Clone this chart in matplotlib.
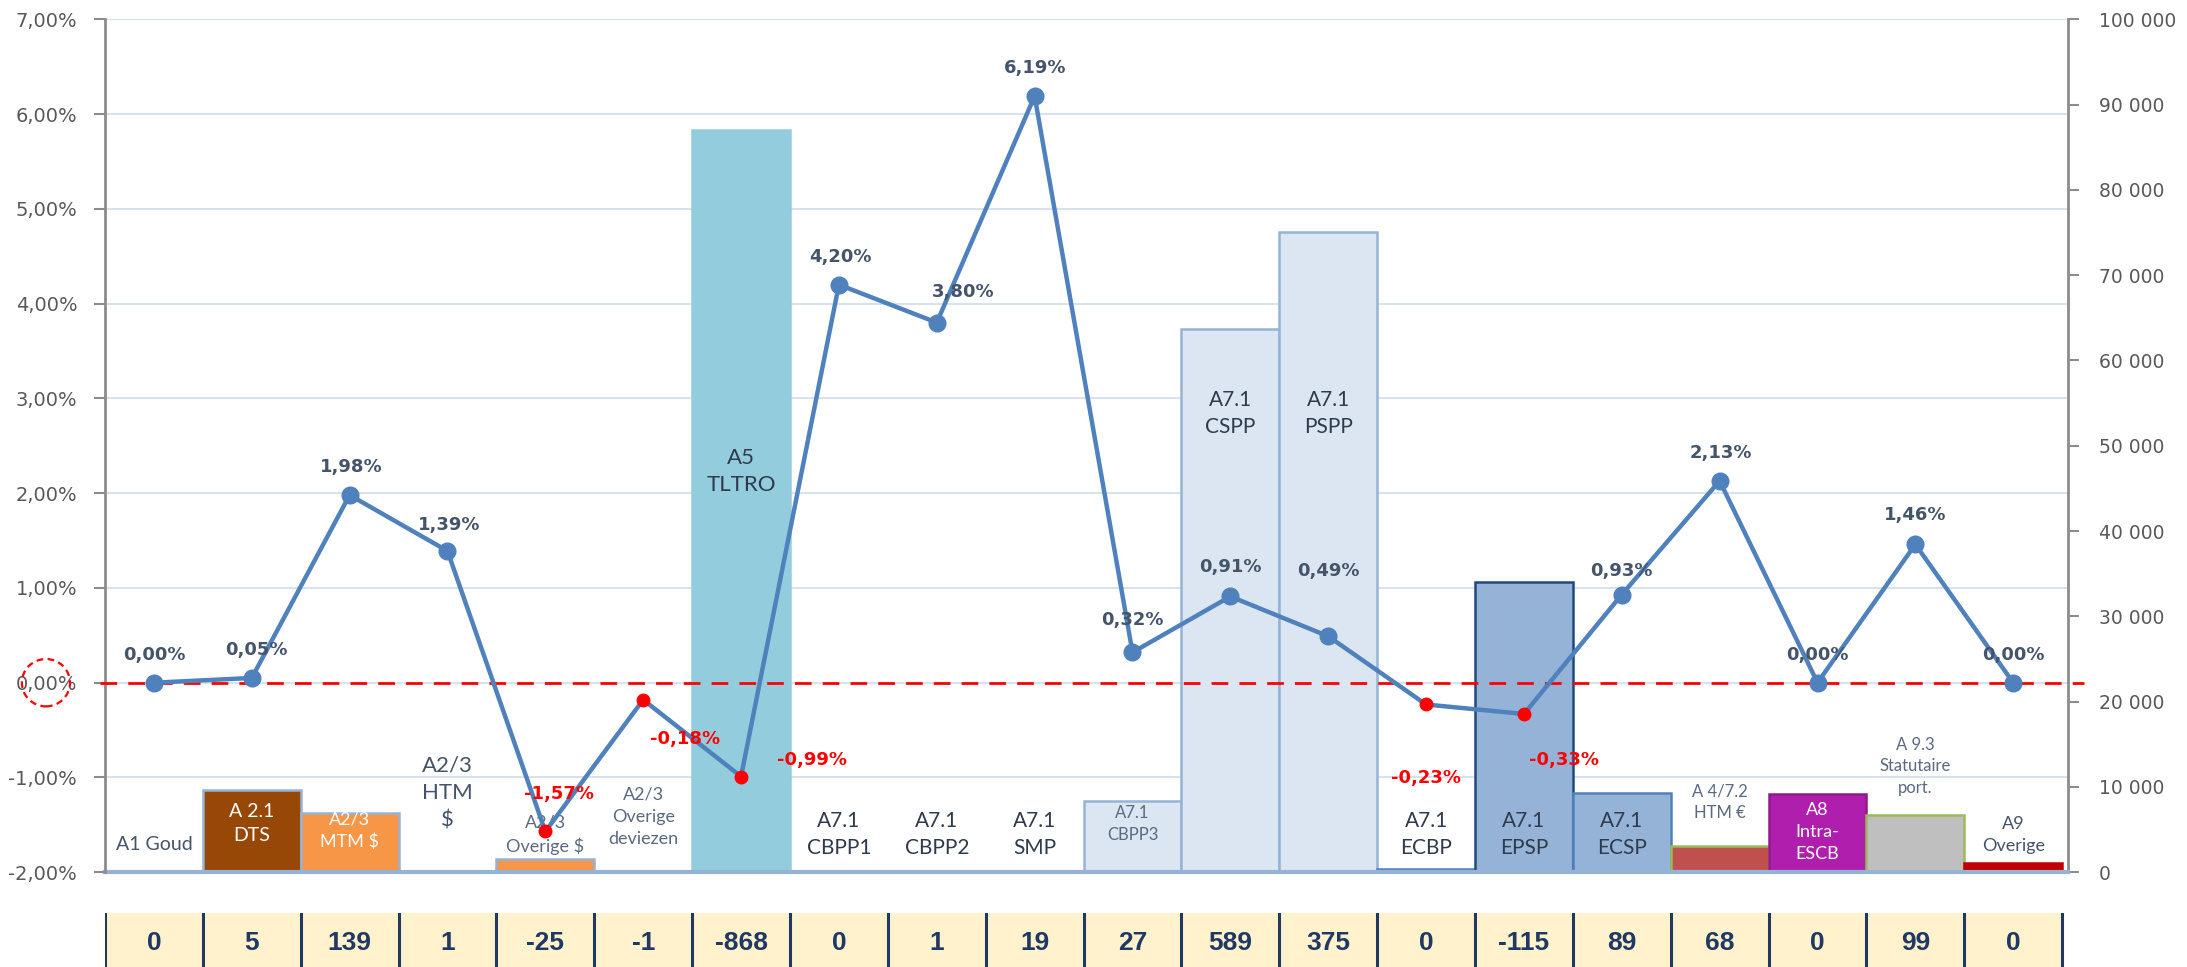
import matplotlib
matplotlib.use("Agg")
import matplotlib.pyplot as plt
from matplotlib.patches import Ellipse
from matplotlib.lines import Line2D
from matplotlib.transforms import blended_transform_factory
from matplotlib.ticker import FuncFormatter, MultipleLocator

# data
categories = ["A1 Goud", "A 2.1\nDTS", "A2/3\nMTM $", "A2/3\nHTM\n$", "A2/3\nOverige $",
              "A2/3\nOverige\ndeviezen", "A5\nTLTRO", "A7.1\nCBPP1", "A7.1\nCBPP2", "A7.1\nSMP",
              "A7.1\nCBPP3", "A7.1\nCSPP", "A7.1\nPSPP", "A7.1\nECBP", "A7.1\nEPSP",
              "A7.1\nECSP", "A 4/7.2\nHTM €", "A8\nIntra-\nESCB", "A 9.3\nStatutaire\nport.",
              "A9\nOverige"]
holdings = [0, 9700, 6900, 0, 1500, 0, 87000, 0, 0, 0,
            8300, 63700, 75100, 350, 34000, 9300, 3100, 9200, 6700, 1100]
returns = [0.00, 0.05, 1.98, 1.39, -1.57, -0.18, -0.99, 4.20, 3.80, 6.19,
           0.32, 0.91, 0.49, -0.23, -0.33, 0.93, 2.13, 0.00, 1.46, 0.00]
income = [0, 5, 139, 1, -25, -1, -868, 0, 1, 19, 27, 589, 375, 0, -115, 89, 68, 0, 99, 0]

# styling
bar_fill = ["#4F81BD", "#974706", "#F79646", "#4F81BD", "#F79646", "#4F81BD", "#93CDDD",
            "#DCE6F2", "#DCE6F2", "#DCE6F2", "#DCE6F2", "#DCE6F2", "#DCE6F2", "#4F81BD",
            "#95B3D7", "#95B3D7", "#C0504D", "#B01EAE", "#BFBFBF", "#C00000"]
bar_edge = ["#4F81BD", "#95B3D7", "#95B3D7", "#4F81BD", "#95B3D7", "#4F81BD", "#93CDDD",
            "#95B3D7", "#95B3D7", "#95B3D7", "#95B3D7", "#95B3D7", "#95B3D7", "#4F81BD",
            "#1F497D", "#4F81BD", "#9BBB59", "#8E1A8C", "#9BBB59", "#C00000"]
cat_y = [3300, 5700, 4900, 9300, 4400, 6500, 47000, 4400, 4400, 4400,
         5700, 53800, 53800, 4400, 4400, 4400, 8200, 4700, 12400, 4400]
cat_size = [14, 14, 13, 16, 13, 13, 16, 15, 15, 15, 12, 15, 15, 15, 15, 15, 12, 13, 12, 13]
cat_color = ["#44546A", "white", "white", "#44546A", "#5A6A80", "#5A6A80", "#2F3B4C",
             "#2F3B4C", "#2F3B4C", "#2F3B4C", "#5A6A80", "#2F3B4C", "#2F3B4C", "#2F3B4C",
             "#2F3B4C", "#2F3B4C", "#5A6A80", "white", "#5A6A80", "#44546A"]
lbl_off = [(0, 20), (3, 20), (1, 20), (1, 19), (10, 27), (30, -28), (51, 12), (1, 20),
           (19, 22), (0, 20), (0, 23), (0, 21), (0, 47), (0, -53), (29, -33), (0, 17),
           (1, 20), (0, 20), (0, 21), (0, 20)]

blue = "#4F81BD"
x = list(range(len(categories)))

fig = plt.figure(figsize=(21.87, 9.67), dpi=100)
axb = fig.add_axes([0.048, 0.098, 0.8976, 0.882])
axl = axb.twinx()

axb.set_xlim(-0.5, 19.56)
axb.set_ylim(0, 100000)
axl.set_ylim(-2, 7)

# gridlines at each percent, behind the bars
tr = blended_transform_factory(axb.transAxes, axl.transData)
for p in range(-1, 8):
    axb.add_line(Line2D([0, 1], [p, p], transform=tr, color="#D3DFEF", lw=1.3, zorder=0))

axb.bar(x, holdings, width=1.0, color=bar_fill, edgecolor=bar_edge, linewidth=1.8, zorder=2)
for i, lab in enumerate(categories):
    axb.text(i, cat_y[i], lab, ha="center", va="center", fontsize=cat_size[i],
             color=cat_color[i], family="Lato", linespacing=1.45, zorder=3)

# right axis (bars)
axb.yaxis.tick_right()
axb.yaxis.set_major_locator(MultipleLocator(10000))
axb.yaxis.set_major_formatter(FuncFormatter(lambda v, _: f"{int(v):,}".replace(",", " ")))
axb.set_xticks([])
for s in ["top", "left"]:
    axb.spines[s].set_visible(False)
axb.spines["right"].set_color("#8C8C8C")
axb.spines["right"].set_linewidth(2)
axb.spines["bottom"].set_color("#95B3D7")
axb.spines["bottom"].set_linewidth(3)
axb.tick_params(axis="y", colors="#8C8C8C", labelcolor="#595959", labelsize=13.5,
                length=8, width=1.5, pad=14)

# left axis (returns)
axl.yaxis.tick_left()
axl.yaxis.set_major_locator(MultipleLocator(1))
axl.yaxis.set_major_formatter(FuncFormatter(lambda v, _: f"{v:.2f}%".replace(".", ",")))
for s in ["top", "right", "bottom"]:
    axl.spines[s].set_visible(False)
axl.spines["left"].set_color("#8C8C8C")
axl.spines["left"].set_linewidth(2)
axl.tick_params(axis="y", colors="#8C8C8C", labelcolor="#595959", labelsize=14,
                length=8, width=1.5, pad=12)

axl.plot([-0.55, 19.72], [0, 0], color="#FF0000", lw=2, ls=(0, (6, 4)), clip_on=False, zorder=3)
axl.plot(x, returns, color=blue, lw=3.2, zorder=4)
for i, r in enumerate(returns):
    neg = r < 0
    axl.plot(i, r, "o", ms=9 if neg else 12, color="#FF0000" if neg else blue, zorder=5)
    axl.annotate(f"{r:.2f}%".replace(".", ","), (i, r), xytext=lbl_off[i],
                 textcoords="offset points", ha="center", va="center", fontsize=13,
                 fontweight="bold", color="#FF0000" if neg else "#44546A", zorder=6)

# dashed circle around the 0,00% tick label
ctr = blended_transform_factory(fig.transFigure, axl.transData)
axl.add_patch(Ellipse((0.021, 0), 0.022, 0.5, transform=ctr, fill=False,
                      ec="#FF0000", ls=(0, (3, 2)), lw=1.6, clip_on=False, zorder=6))

# income row
axt = fig.add_axes([0.048, 0.0, 0.8976, 0.056], sharex=axb)
axt.set_ylim(0, 1)
axt.axis("off")
axt.axvspan(-0.5, 19.5, color="#FFF2CC", zorder=0)
for b in range(len(income) + 1):
    axt.plot([b - 0.5, b - 0.5], [0, 1], color="#1F3864", lw=2.2, zorder=2)
for i, v in enumerate(income):
    axt.text(i, 0.45, str(v), ha="center", va="center", fontsize=19, fontweight="bold",
             color="#203864", family=["Liberation Sans Narrow", "Liberation Sans"])

fig.savefig("out.png", dpi=100)
plt.close(fig)
